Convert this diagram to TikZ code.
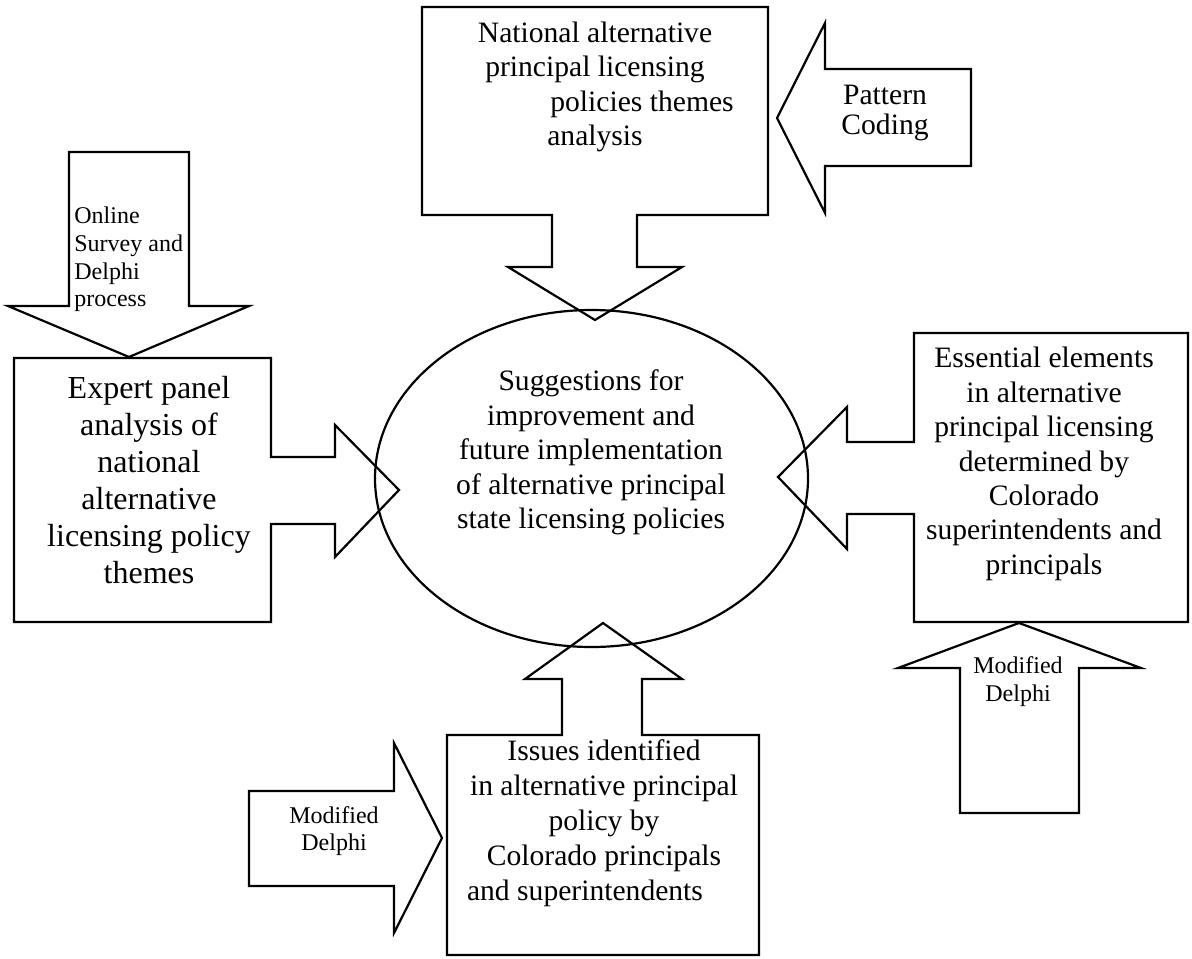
\documentclass[tikz,border=0pt]{standalone}
\usepackage{fontspec}
\setmainfont{Liberation Serif}
\begin{document}
\begin{tikzpicture}[x=0.5pt,y=-0.5pt,
  blk/.style={draw,line width=1.1pt,line join=miter},
  maintxt/.style={font=\fontsize{14.8}{17.2}\selectfont, align=center, inner sep=0pt},
  bigtxt/.style={font=\fontsize{16}{18.5}\selectfont, align=center, inner sep=0pt},
  smalltxt/.style={font=\fontsize{12}{13.8}\selectfont, align=center, inner sep=0pt}]
\fill[white] (0,0) rectangle (1192,958);
\useasboundingbox (0,0) rectangle (1192,958);

% central ellipse
\draw[blk] (591.5,478.5) ellipse [x radius=216.5, y radius=168.5];

% top callout (National)
\draw[blk] (422,7) -- (768,7) -- (768,215) -- (637,215) -- (637,267) -- (682,267)
  -- (595,320) -- (508,267) -- (552,267) -- (552,215) -- (422,215) -- cycle;
% Pattern Coding arrow
\draw[blk] (971,69) -- (971,166) -- (825,166) -- (825,213) -- (777,118)
  -- (825,23) -- (825,69) -- cycle;
% Online Survey arrow
\draw[blk] (69,152) -- (189,152) -- (189,306) -- (249,306) -- (129,357)
  -- (8,306) -- (69,306) -- cycle;
% Expert callout
\draw[blk] (14,358) -- (271,358) -- (271,457) -- (335,457) -- (335,425) -- (399,490)
  -- (335,557) -- (335,524) -- (271,524) -- (271,622) -- (14,622) -- cycle;
% Essential callout
\draw[blk] (914,333) -- (1188,333) -- (1188,622) -- (914,622) -- (914,514) -- (847,514)
  -- (847,549) -- (778,477) -- (847,407) -- (847,442) -- (914,442) -- cycle;
% right Modified Delphi arrow
\draw[blk] (960,813) -- (960,668) -- (898,668) -- (1019,623) -- (1141,668)
  -- (1079,668) -- (1079,813) -- cycle;
% Issues callout
\draw[blk] (447,735) -- (562,735) -- (562,679) -- (525,679) -- (603,623) -- (682,679)
  -- (642,679) -- (642,735) -- (759,735) -- (759,955) -- (447,955) -- cycle;
% left Modified Delphi arrow
\draw[blk] (249,791) -- (394,791) -- (394,743) -- (442,838) -- (394,933)
  -- (394,886) -- (249,886) -- cycle;

% texts
\node[maintxt] (national) at (595,87) {National alternative\\principal licensing\\\hspace*{47pt}policies themes\\analysis};
\node[maintxt, font=\fontsize{14.8}{15}\selectfont] (pattern) at (885,113) {Pattern\\Coding};
\node[smalltxt, align=left, anchor=west] (online) at (74,259.5) {Online\\Survey and\\Delphi\\process};
\node[bigtxt] (expert) at (149,480.5) {Expert panel\\analysis of\\national\\alternative\\licensing policy\\themes};
\node[maintxt] (sugg) at (591,452.5) {Suggestions for\\improvement and\\future implementation\\of alternative principal\\state licensing policies};
\node[maintxt] (essential) at (1044,464) {Essential elements\\in alternative\\principal licensing\\determined by\\Colorado\\superintendents and\\principals};
\node[smalltxt] (delphiR) at (1018,681.5) {Modified\\Delphi};
\node[maintxt, font=\fontsize{14.8}{17.5}\selectfont] (issues) at (604,823) {Issues identified\\in alternative principal\\policy by\\Colorado principals\\and superintendents\hspace*{19pt}};
\node[smalltxt] (delphiL) at (334,831) {Modified\\Delphi};
\end{tikzpicture}
\end{document}
